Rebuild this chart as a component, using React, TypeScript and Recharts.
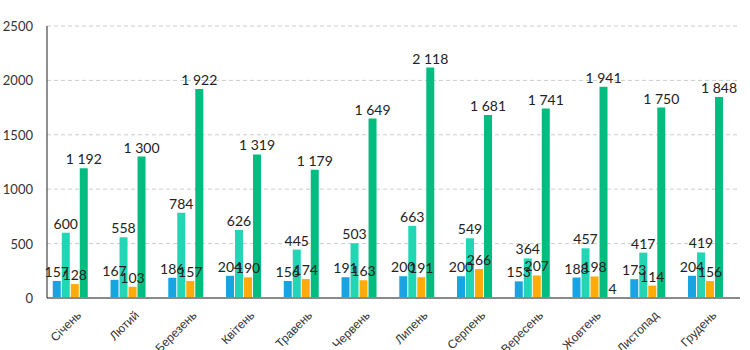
import React from 'react';
import { BarChart, Bar, XAxis, YAxis, CartesianGrid, LabelList } from 'recharts';

const months = ['Січень', 'Лютий', 'Березень', 'Квітень', 'Травень', 'Червень', 'Липень', 'Серпень', 'Вересень', 'Жовтень', 'Листопад', 'Грудень'];
const blueValues = [157, 167, 186, 204, 156, 191, 200, 200, 153, 188, 173, 204];
const tealValues = [600, 558, 784, 626, 445, 503, 663, 549, 364, 457, 417, 419];
const orangeValues = [128, 103, 157, 190, 174, 163, 191, 266, 207, 198, 114, 156];
const greenValues = [1192, 1300, 1922, 1319, 1179, 1649, 2118, 1681, 1741, 1941, 1750, 1848];
const fifthValues: (number | null)[] = [null, null, null, null, null, null, null, null, null, 4, null, null];
const yTicks = [0, 500, 1000, 1500, 2000, 2500];

const data = months.map((m, i) => ({
    month: m,
    blue: blueValues[i],
    teal: tealValues[i],
    orange: orangeValues[i],
    green: greenValues[i],
    fifth: fifthValues[i],
}));

const fmt = (v: any) => String(v).replace(/\B(?=(\d{3})+(?!\d))/g, ' ');

// plain text label, no wrapping
const renderLabel = (props: any) => {
    const { x, y, width, value } = props;
    if (value == null) return null;
    return (
        <text x={Number(x) + Number(width) / 2} y={Number(y) - 4} textAnchor="middle" fill="#222" fontSize={14} fontFamily="Lato">
            {fmt(value)}
        </text>
    );
};

const XTick = (props: any) => {
    const { x, y, payload } = props;
    return (
        <g transform={`translate(${x + 6},${y + 10})`}>
            <text textAnchor="end" transform="rotate(-45)" fill="#333" fontSize={12} fontFamily="Liberation Sans, Arial">
                {payload.value}
            </text>
        </g>
    );
};

const YTick = (props: any) => {
    const { y, payload } = props;
    return (
        <text x={33} y={y} dy={5} textAnchor="end" fill="#333" fontSize={13} fontFamily="Lato">
            {payload.value}
        </text>
    );
};

const series = [
    { key: 'blue', color: '#17a4e1' },
    { key: 'teal', color: '#22d5b4' },
    { key: 'orange', color: '#ffab09' },
    { key: 'green', color: '#03bd80' },
    { key: 'fifth', color: '#1f4e79' },
];

export default function App() {
    return (
        <div style={{ position: 'absolute', left: 0, top: 0, width: 750, height: 350, overflow: 'hidden', background: '#fff' }}>
            <BarChart
                width={750}
                height={362}
                data={data}
                margin={{ top: 26, right: 10, left: 0, bottom: 0 }}
                barCategoryGap="10%"
                barGap={1}
            >
                <CartesianGrid vertical={false} stroke="#cccccc" strokeDasharray="4 3" />
                <XAxis
                    dataKey="month"
                    height={64}
                    interval={0}
                    tickLine={false}
                    axisLine={{ stroke: '#8a8a8a', strokeWidth: 2 }}
                    tick={<XTick />}
                />
                <YAxis
                    width={47}
                    domain={[0, 2500]}
                    ticks={yTicks}
                    tickLine={false}
                    axisLine={{ stroke: '#222' }}
                    tick={<YTick />}
                />
                {series.map((s) => (
                    <Bar key={s.key} dataKey={s.key} fill={s.color} isAnimationActive={false}>
                        <LabelList dataKey={s.key} content={renderLabel} />
                    </Bar>
                ))}
            </BarChart>
        </div>
    );
}
